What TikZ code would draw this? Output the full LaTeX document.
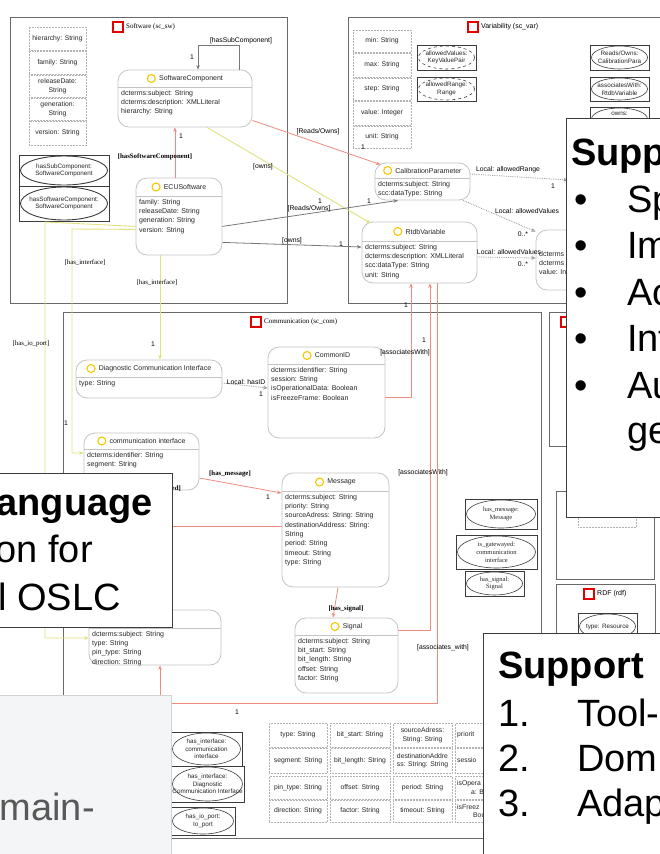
\documentclass[tikz,border=0pt]{standalone}
\usepackage{fontspec}
\setmainfont{Liberation Sans}
\newfontfamily\tnr{Liberation Serif}
\usetikzlibrary{arrows.meta,shapes.geometric,calc}
\definecolor{lred}{RGB}{238,140,128}
\definecolor{lyel}{RGB}{225,225,125}
\definecolor{lgray}{RGB}{120,120,120}
\definecolor{bgray}{RGB}{196,196,196}
\definecolor{fgray}{RGB}{105,105,105}
\definecolor{cyel}{RGB}{245,200,0}
\definecolor{dgray}{RGB}{89,89,89}
\definecolor{cgray}{RGB}{60,60,60}
\definecolor{pale}{RGB}{243,245,247}
\tikzset{
 every node/.style={inner sep=0pt},
 clsbox/.style={draw=bgray, rounded corners=11pt, line width=0.8pt, fill=white},
 sepline/.style={draw=bgray, line width=0.6pt},
 clstitle/.style={font=\fontsize{7}{9}\selectfont, text=black!85},
 yc/.style={circle, draw=cyel, line width=1.1pt, minimum size=8pt},
 attrs/.style={anchor=north west, align=left, text=black!85, font=\fontsize{7}{9.3}\selectfont},
 attrbox/.style={draw=gray!60, densely dotted, line width=0.5pt, align=center, text=black!85, font=\fontsize{6.8}{8.5}\selectfont},
 gtext/.style={anchor=west, text=black!85, font=\fontsize{6.8}{8.5}\selectfont},
 ellrect/.style={draw=cgray, line width=0.8pt},
 ellshape/.style={ellipse, draw=cgray, line width=0.6pt},
 elltext/.style={align=center, text=black!85, font=\fontsize{6.3}{7.6}\selectfont},
 ellserif/.style={font=\tnr\fontsize{6.5}{7.8}\selectfont},
 contbox/.style={draw=fgray, line width=1pt},
 redsq/.style={draw=red!90!black, line width=1.1pt, minimum size=10pt},
 conttitle/.style={anchor=west, font=\fontsize{7}{8}\selectfont},
 rlink/.style={draw=lred, line width=0.8pt},
 ylink/.style={draw=lyel, line width=0.9pt},
 glink/.style={draw=lgray, line width=0.8pt},
 dlink/.style={draw=gray!80, densely dotted, line width=0.8pt, -{Triangle[open,length=4pt,width=3.5pt]}},
 tip/.style={-{Stealth[length=4.5pt,width=3.5pt]}},
 lab/.style={font=\fontsize{6.8}{8}\selectfont},
 blab/.style={font=\tnr\bfseries\fontsize{6.8}{8}\selectfont},
 slab/.style={font=\tnr\fontsize{6.8}{8}\selectfont},
 callout/.style={draw=cgray, line width=1pt, fill=white},
 callpale/.style={draw=gray!35, line width=0.8pt, fill=pale},
 big/.style={font=\fontsize{38}{46}\selectfont, anchor=base west},
 bigb/.style={font=\bfseries\fontsize{38}{46}\selectfont, anchor=base west},
}
\newcommand\mkbox[6]{\node[#6,minimum width={(#4-(#2))*1pt},minimum height={(#5-(#3))*1pt}] (#1) at ({((#2)+(#4))/2},{((#3)+(#5))/2})}
\newcommand\clsnode[8]{%
 \mkbox{#1}{#2}{#3}{#4}{#5}{clsbox}{};
 \draw[sepline] (#1.west |- 0,#6) -- (#1.east |- 0,#6);
 \node[clstitle] (#1t) at ({((#2)+(#4))/2+6},{((#3)+(#6))/2}) {#7};
 \node[yc, anchor=east] (#1c) at ([xshift=-3pt]#1t.west) {};
 \node[attrs] (#1a) at ({(#2)+3},{(#6)+3}) {#8};}
\newcommand\attrnode[6]{\mkbox{#1}{#2}{#3}{#4}{#5}{attrbox}{#6};}
\newcommand\ellbox[8]{%
 \mkbox{#1}{#2}{#3}{#4}{#5}{ellrect}{};
 \node[ellshape,#6,minimum width={(#4-(#2)-3)*1pt},minimum height={(#5-(#3)-2)*1pt}] (#1e) at (#1.center) {};
 \node[elltext,#7] (#1x) at (#1.center) {#8};}
\begin{document}
\begin{tikzpicture}[x=1pt,y=-1pt]
\useasboundingbox (0,0) rectangle (660,854);
\fill[white] (0,0) rectangle (660,854);
% ---------- containers ----------
\mkbox{swbox}{10}{17}{287}{303}{contbox}{};
\node[redsq] (swsq) at (118,27) {};
\node[conttitle, font=\tnr\fontsize{7}{8}\selectfont] (swtit) at (126,27) {Software (sc\_sw)};
\mkbox{varbox}{348}{17}{662}{303}{contbox}{};
\node[redsq] (varsq) at (473,27) {};
\node[conttitle] (vartit) at (481,27) {Variability (sc\_var)};
\mkbox{combox}{63}{312}{541}{838}{contbox}{};
\node[redsq] (comsq) at (256,322) {};
\node[conttitle, font=\tnr\fontsize{7}{8}\selectfont] (comtit) at (264,322) {Communication (sc\_com)};
\mkbox{boxa}{549}{312}{662}{446}{contbox}{};
\node[redsq] (boxasq) at (566,322) {};
\mkbox{boxb}{556}{491}{654}{579}{contbox}{};
\attrnode{dtype}{578}{503}{636}{527}{dataType: String}
\mkbox{boxc}{556}{584}{655}{700}{contbox}{};
\node[redsq] (rdfsq) at (589,594) {};
\node[conttitle] (rdftit) at (597,594) {RDF (rdf)};
\ellbox{tres}{578}{613}{637}{640}{}{}{type: Resource}
% ---------- software attrs ----------
\attrnode{a1}{29}{27}{86}{50}{hierarchy: String}
\attrnode{a2}{29}{51}{86}{74}{family: String}
\attrnode{a3}{29}{75}{86}{97}{releaseDate:\\String}
\attrnode{a4}{29}{98}{86}{120}{generation:\\String}
\attrnode{a5}{29}{121}{86}{145}{version: String}
\ellbox{hsc}{19}{155}{109}{186}{line width=0.9pt}{}{hasSubComponent:\\SoftwareComponent}
\ellbox{hswc}{19}{186}{109}{221}{line width=0.9pt}{}{hasSoftwareComponent:\\SoftwareComponent}
% ---------- variability attrs ----------
\attrnode{v1}{353}{30}{411}{52}{min: String}
\attrnode{v2}{353}{53}{411}{77}{max: String}
\attrnode{v3}{353}{78}{411}{100}{step: String}
\attrnode{v4}{353}{101}{411}{125}{value: Integer}
\attrnode{v5}{353}{126}{411}{148}{unit: String}
\ellbox{av}{417}{45}{476}{70}{dashed}{}{allowedValues:\\KeyValuePair}
\ellbox{ar}{417}{77}{476}{101}{dashed}{}{allowedRange:\\Range}
\ellbox{ro}{590}{45}{649}{70}{}{}{Reads/Owns:\\CalibrationPara}
\ellbox{aw}{590}{77}{649}{101}{}{}{associatesWith:\\RtdbVariable}
\ellbox{ow}{590}{107}{649}{131}{}{}{}
\node[elltext] (owt) at (619.5,113.5) {owns:};
% ---------- communication ellipses ----------
\ellbox{hm}{465}{499}{537}{529}{}{ellserif}{has\_message:\\Message}
\ellbox{ig}{456}{535}{537}{569}{}{ellserif}{is\_gatewayed:\\communication\\interface}
\ellbox{hs}{465}{571}{524}{596}{}{ellserif}{has\_signal:\\Signal}
\ellbox{hi1}{171}{732}{242}{766}{}{}{has\_interface:\\communication\\interface}
\ellbox{hi2}{171}{766}{244}{802}{}{}{has\_interface:\\Diagnostic\\Communication Interface}
\ellbox{hio}{171}{807}{235}{835}{}{}{has\_io\_port:\\Io\_port}
% ---------- bottom grid ----------
\attrnode{g11}{269}{723}{327}{747}{type: String}
\attrnode{g12}{269}{748}{327}{773}{segment: String}
\attrnode{g13}{269}{776}{327}{799}{pin\_type: String}
\attrnode{g14}{269}{800}{327}{822}{direction: String}
\attrnode{g21}{330}{723}{390}{747}{bit\_start: String}
\attrnode{g22}{330}{748}{390}{773}{bit\_length: String}
\attrnode{g23}{330}{776}{390}{799}{offset: String}
\attrnode{g24}{330}{800}{390}{822}{factor: String}
\attrnode{g31}{393}{723}{452}{747}{sourceAdress:\\String: String}
\attrnode{g32}{393}{748}{452}{773}{destinationAddre\\ss: String: String}
\attrnode{g33}{393}{776}{452}{799}{period: String}
\attrnode{g34}{393}{800}{452}{822}{timeout: String}
\attrnode{g41}{455}{723}{514}{747}{}
\attrnode{g42}{455}{748}{514}{773}{}
\attrnode{g43}{455}{776}{514}{799}{}
\attrnode{g44}{455}{800}{514}{822}{}
\node[gtext] (g41t) at (457,735) {priorit};
\node[gtext] (g42t) at (457,760.5) {sessio};
\node[gtext] (g43t) at (457,783.5) {isOpera};
\node[gtext] (g43u) at (471,792) {a: Bo};
\node[gtext] (g44t) at (457,807) {isFreez};
\node[gtext] (g44u) at (473,815.5) {Boo};
% ---------- classes ----------
\clsnode{sc}{118}{70}{252}{127}{87}{SoftwareComponent}{dcterms:subject: String\\dcterms:description: XMLLiteral\\hierarchy: String}
\clsnode{ecu}{136}{178}{222}{255}{196}{ECUSoftware}{family: String\\releaseDate: String\\generation: String\\version: String}
\clsnode{cal}{375}{163}{470}{200}{178}{CalibrationParameter}{dcterms:subject: String\\scc:dataType: String}
\clsnode{rtdb}{362}{222}{477}{283}{241}{RtdbVariable}{dcterms:subject: String\\dcterms:description: XMLLiteral\\scc:dataType: String\\unit: String}
\mkbox{kvp}{536}{230}{668}{290}{clsbox}{};
\node[attrs] (kvpa) at (539,251) {dcterms\\dcterms\\value: In};
\clsnode{dci}{76}{360}{222}{398}{377}{Diagnostic Communication Interface}{type: String}
\clsnode{cid}{268}{347}{385}{438}{364}{CommonID}{dcterms:identifier: String\\session: String\\isOperationalData: Boolean\\isFreezeFrame: Boolean}
\clsnode{ci}{84}{433}{199}{490}{449}{communication interface}{dcterms:identifier: String\\segment: String}
\clsnode{msg}{282}{473}{389}{587}{491}{Message}{dcterms:subject: String\\priority: String\\sourceAdress: String: String\\destinationAddress: String:\\String\\period: String\\timeout: String\\type: String}
\clsnode{sig}{295}{618}{398}{693}{635}{Signal}{dcterms:subject: String\\bit\_start: String\\bit\_length: String\\offset: String\\factor: String}
\clsnode{iop}{89}{610}{221}{665}{628}{Io\_port}{dcterms:subject: String\\type: String\\pin\_type: String\\direction: String}
% ---------- connectors ----------
\draw[glink, tip] (239,0 |- sc.north) -- (239,45) -| (198,0 |- sc.north);
\node[lab] (l1) at (241,41) {[hasSubComponent]};
\node[lab] (l2) at (192,57) {1};
\draw[rlink, tip] (175,0 |- ecu.north) -- (175,0 |- sc.south);
\node[blab] (l3) at (155,157) {[hasSoftwareComponent]};
\node[lab] (l4) at (181,136) {1};
\draw[ylink, tip] (207,0 |- sc.south) -- ([shift={(9,1.5)}]rtdb.north west);
\node[lab] (l5) at (263,167) {[owns]};
\draw[rlink, tip] ([yshift=7pt]sc.south east) -- ([shift={(6,2)}]cal.north west);
\node[lab] (l6) at (318,132) {[Reads/Owns]};
\node[lab] (l7) at (363,147) {1};
\draw[glink, tip] ([yshift=29pt]ecu.south east) -- (398,0 |- cal.south);
\node[lab] (l8) at (309,209) {[Reads/Owns]};
\node[lab] (l9) at (320,201) {1};
\node[lab] (l10) at (369,201) {1};
\draw[glink, tip] ([yshift=13pt]ecu.south east) -- (rtdb.west |- 0,247);
\node[lab] (l11) at (292,241) {[owns]};
\node[lab] (l12) at (341,244) {1};
\draw[ylink, tip] ([yshift=29pt]ecu.south west) -- (45,222) -- (45,638) -- (iop.west |- 0,638);
\draw[ylink, tip] ([yshift=26pt]ecu.south west) -- (72,229) -- (72,453) -- (ci.west |- 0,453);
\draw[ylink, tip] (160,0 |- ecu.south) -- (160,0 |- dci.north);
\node[slab] (l13) at (31,344) {[has\_io\_port]};
\node[slab] (l14) at (85,263) {[has\_interface]};
\node[slab] (l15) at (157,283) {[has\_interface]};
\node[lab] (l16) at (66,423) {1};
\node[lab] (l17) at (153,344) {1};
\draw[dlink] (dci.east |- 0,383) -- (cid.west |- 0,388);
\node[lab] (l18) at (246,382) {Local: hasID};
\node[lab] (l19) at (261,394) {1};
\coordinate (rgend) at (568,180);
\draw[dlink] (cal.east |- 0,174) -- (rgend);
\node[lab] (l20) at (508,170) {Local: allowedRange};
\node[lab] (l21) at (553,186) {1};
\draw[dlink] (463,0 |- cal.south) -- ([yshift=-2pt]kvp.north west);
\node[lab] (l22) at (527,211) {Local: allowedValues};
\node[lab] (l23) at (523,234) {0..*};
\draw[dlink] (rtdb.east |- 0,257) -- (kvp.west |- 0,258);
\node[lab] (l24) at (509,252) {Local: allowedValues};
\node[lab] (l25) at (523,264) {0..*};
\draw[rlink, tip] (cid.east |- 0,397) -- (411,397) -- (411,0 |- rtdb.south);
\node[lab] (l26) at (406,305) {1};
\node[lab] (l27) at (424,340) {1};
\node[lab] (l28) at (405,353) {[associatesWith]};
\draw[rlink, tip] (sig.east |- 0,630) -- (430,630) -- (430,0 |- rtdb.south);
\node[lab] (l29) at (423,473) {[associatesWith]};
\draw[rlink, tip] (437,0 |- rtdb.south) -- (437,703) -- (160,703) -- (160,0 |- iop.south);
\node[lab] (l30) at (237,712) {1};
\node[lab] (l31) at (443,648) {[associates\_with]};
\draw[rlink, tip] (ci.east |- 0,478) -- (msg.west |- 0,493);
\node[blab] (l32) at (230,474) {[has\_message]};
\node[lab] (l33) at (268,497) {1};
\coordinate (gwstart) at (150,526);
\draw[rlink] (gwstart) -- (msg.west |- 0,526);
\node[blab, anchor=east] (l34) at (181,489) {ed]};
\draw[rlink, tip] (338,0 |- msg.south) -- (333,0 |- sig.north);
\node[blab] (l35) at (346,609) {[has\_signal]};
% ---------- callouts ----------
\mkbox{co1}{566}{118}{668}{517}{callout}{};
\node[bigb] (t1) at (571,165) {Supp};
\node[big] (b1) at (574,212) {•}; \node[big] (t2) at (627,212) {Sp};
\node[big] (b2) at (574,258) {•}; \node[big] (t3) at (627,258) {Im};
\node[big] (b3) at (574,305) {•}; \node[big] (t4) at (627,305) {Ac};
\node[big] (b4) at (574,351) {•}; \node[big] (t5) at (627,351) {Int};
\node[big] (b5) at (574,398) {•}; \node[big] (t6) at (627,398) {Au};
\node[big] (t7) at (627,443) {ge};
\mkbox{co2}{-5}{473}{172}{627}{callout}{};
\node[bigb, anchor=base east] (t8) at (153,515) {anguage};
\node[big, anchor=base east] (t9) at (93,562) {on for};
\node[big, anchor=base east] (t10) at (121,610) {l OSLC};
\mkbox{co3}{-5}{695}{171}{862}{callpale}{};
\node[big, anchor=base east, text=dgray] (t11) at (95,820) {omain-};
\mkbox{co4}{483}{633}{668}{862}{callout}{};
\node[bigb] (t12) at (498,678) {Support};
\node[big] (n1) at (498,726) {1.}; \node[big] (t13) at (577,726) {Tool-};
\node[big] (n2) at (498,771) {2.}; \node[big] (t14) at (577,771) {Dom};
\node[big] (n3) at (498,816) {3.}; \node[big] (t15) at (577,816) {Adap};
\end{tikzpicture}
\end{document}
